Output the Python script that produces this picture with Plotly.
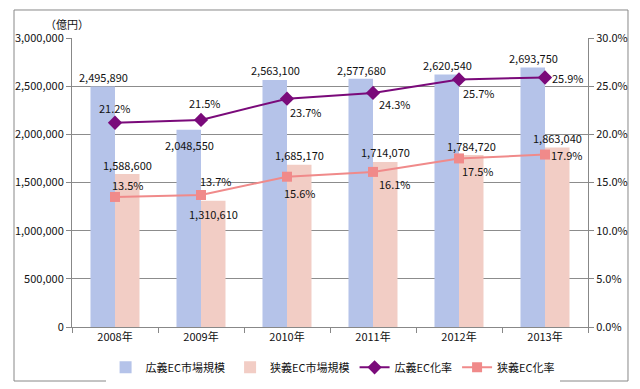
import plotly.graph_objects as go

years = ["2008年", "2009年", "2010年", "2011年", "2012年", "2013年"]
broad_market = [2495890, 2048550, 2563100, 2577680, 2620540, 2693750]
narrow_market = [1588600, 1310610, 1685170, 1714070, 1784720, 1863040]
broad_rate = [21.2, 21.5, 23.7, 24.3, 25.7, 25.9]
narrow_rate = [13.5, 13.7, 15.6, 16.1, 17.5, 17.9]

left_ticks = [0, 500000, 1000000, 1500000, 2000000, 2500000, 3000000]
right_ticks = [0, 0.05, 0.10, 0.15, 0.20, 0.25, 0.30]

FONT = "Noto Sans CJK JP"
BLUE = "#B5C3E9"
PINK = "#F2CDC5"
PURPLE = "#7A0A7A"
PINKLINE = "#F08A8A"

# label offsets (pixels) – style only
broad_lbl_y = [10, -15, 10, 9, 10, 10]
narrow_lbl_y = [9, -13, 10, 10, 9, 10]
broad_rate_off = [(0, 15), (4, 17), (19, -13), (22, -11), (20, -14), (23, 0)]
narrow_rate_off = [(13, 12), (15, 14), (13, -16), (22, -12), (19, -13), (22, 0)]

fig = go.Figure()
fig.add_trace(go.Bar(x=years, y=broad_market, name="広義EC市場規模",
                     marker=dict(color=BLUE, line=dict(width=0))))
fig.add_trace(go.Bar(x=years, y=narrow_market, name="狭義EC市場規模",
                     marker=dict(color=PINK, line=dict(width=0))))
fig.add_trace(go.Scatter(x=years, y=[v / 100 for v in broad_rate], name="広義EC化率",
                         yaxis="y2", mode="lines+markers",
                         line=dict(color=PURPLE, width=2),
                         marker=dict(symbol="diamond", size=11, color=PURPLE)))
fig.add_trace(go.Scatter(x=years, y=[v / 100 for v in narrow_rate], name="狭義EC化率",
                         yaxis="y2", mode="lines+markers",
                         line=dict(color=PINKLINE, width=2),
                         marker=dict(symbol="square", size=10, color=PINKLINE)))

ann = []
for i, y in enumerate(years):
    ann.append(dict(x=y, y=broad_market[i], xref="x", yref="y", text=f"{broad_market[i]:,}",
                    showarrow=False, xshift=-12, yshift=broad_lbl_y[i]))
    ann.append(dict(x=y, y=narrow_market[i], xref="x", yref="y", text=f"{narrow_market[i]:,}",
                    showarrow=False, xshift=12, yshift=narrow_lbl_y[i]))
    ann.append(dict(x=y, y=broad_rate[i] / 100, xref="x", yref="y2", text=f"{broad_rate[i]:.1f}%",
                    showarrow=False, xshift=broad_rate_off[i][0], yshift=broad_rate_off[i][1]))
    ann.append(dict(x=y, y=narrow_rate[i] / 100, xref="x", yref="y2", text=f"{narrow_rate[i]:.1f}%",
                    showarrow=False, xshift=narrow_rate_off[i][0], yshift=narrow_rate_off[i][1]))
ann.append(dict(x=-0.01, y=1.048, xref="paper", yref="paper", text="（億円）",
                xanchor="center", yanchor="middle", showarrow=False, font=dict(size=11)))

# page body has an 8px default margin; figure is sized to fill the rest of the window
fig.update_layout(
    width=632, height=381,
    margin=dict(l=64, r=52, t=30, b=62, autoexpand=False),
    paper_bgcolor="white", plot_bgcolor="white",
    font=dict(family=FONT, size=11, color="#111"),
    barmode="group", bargap=0.43, bargroupgap=0,
    showlegend=True,
    legend=dict(orientation="h", x=0.505, xanchor="center", yref="container",
                y=0.057, yanchor="middle",
                font=dict(size=11), traceorder="normal", itemwidth=30),
    xaxis=dict(showline=True, linecolor="#888", linewidth=1, ticks="outside",
               tickson="boundaries", ticklen=5, tickcolor="#888", showgrid=False,
               automargin=False),
    yaxis=dict(range=[0, 3000000], tickvals=left_ticks, tickformat=",d",
               showline=True, linecolor="#888", linewidth=1, ticks="outside", ticklen=5,
               tickcolor="#888", showgrid=True, gridcolor="#8C8C8C", gridwidth=1, zeroline=False,
               automargin=False),
    yaxis2=dict(range=[0, 0.3], tickvals=right_ticks, tickformat=".1%", overlaying="y",
                side="right", showline=True, linecolor="#888", linewidth=1, ticks="outside",
                ticklen=5, tickcolor="#888", showgrid=False, zeroline=False, automargin=False),
    annotations=ann,
    shapes=[dict(type="rect", xref="paper", yref="paper", x0=-0.1124, x1=1.0775,
                 y0=-0.1869, y1=1.0969, line=dict(color="#888", width=1), layer="below")],
)

fig.write_html("out.html")
